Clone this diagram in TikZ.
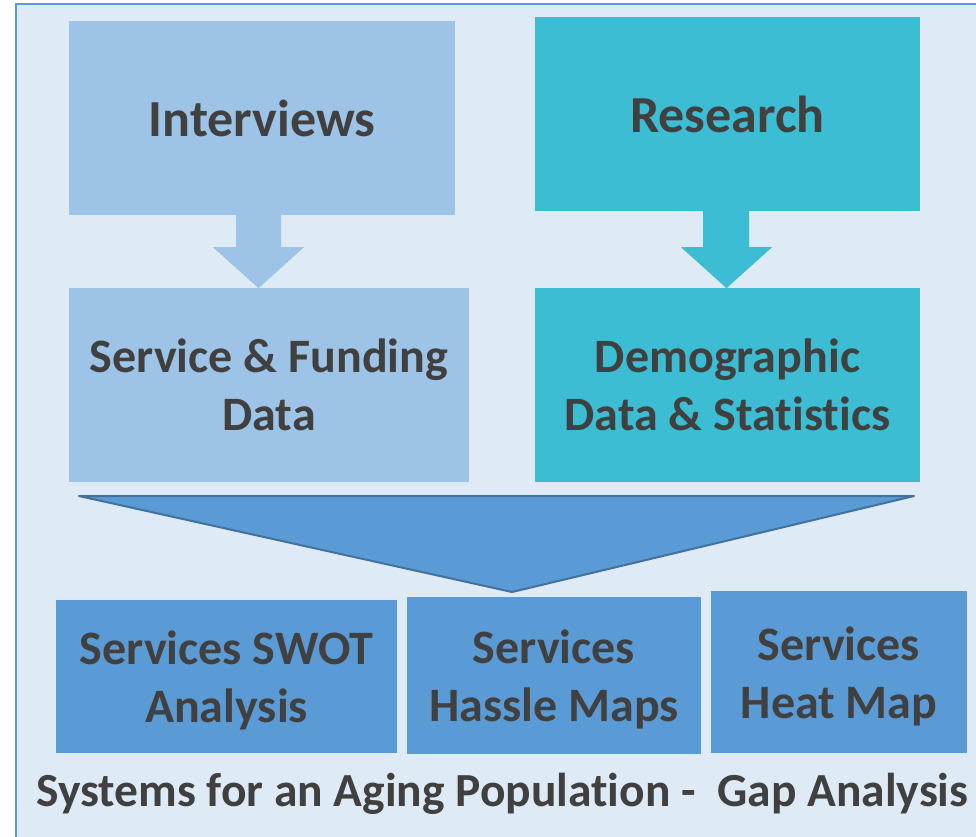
\documentclass[tikz,border=0pt]{standalone}
\usepackage{fontspec}
\setmainfont{Carlito}[Ligatures=NoCommon]
\definecolor{bgblue}{HTML}{DEEBF7}
\definecolor{frameblue}{HTML}{5B9BD5}
\definecolor{lblue}{HTML}{9DC3E6}
\definecolor{teal}{HTML}{3DBDD3}
\definecolor{midblue}{HTML}{5B9BD5}
\definecolor{edgeblue}{HTML}{41719C}
\definecolor{txtgray}{HTML}{404040}
\begin{document}
\begin{tikzpicture}[x=1pt,y=-1pt,
    box/.style={inner sep=0pt,align=center,text=txtgray,
      font=\bfseries\fontsize{48}{58}\selectfont},
    bigbox/.style={box,font=\bfseries\fontsize{52}{62}\selectfont},
    outbox/.style={fill=midblue,inner sep=0pt}]
  \useasboundingbox (0,0) rectangle (976,836);
  \clip (0,0) rectangle (976,836);
  \draw[line width=2,draw=frameblue,fill=bgblue] (16,4) rectangle (1000,860);
  % sources
  \node[bigbox,fill=lblue,minimum width=386,minimum height=194] (intv) at (262,118) {Interviews};
  \node[bigbox,fill=teal,minimum width=385,minimum height=194] (rsch) at (727.5,114) {Research};
  \node[box,fill=lblue,minimum width=400,minimum height=194] (svc) at (269,385) {Service \& Funding\\Data};
  \node[box,fill=teal,minimum width=385,minimum height=194] (demo) at (727.5,385) {Demographic\\Data \& Statistics};
  % block arrows
  \fill[lblue] (intv.south) ++(-26,0) -- ++(45,0) -- ++(0,32) -- ++(23,0)
    -- ++(-45.5,41) -- ++(-45.5,-41) -- ++(23,0) -- cycle;
  \fill[teal] (rsch.south) ++(-24.5,0) -- ++(46,0) -- ++(0,36) -- ++(23,0)
    -- ++(-45.5,41) -- ++(-45.5,-41) -- ++(22,0) -- cycle;
  % funnel
  \draw[line width=2,draw=edgeblue,fill=midblue,line join=round] (79,496) -- (914,496) -- (512,592) -- cycle;
  % results
  \node[outbox,minimum width=341,minimum height=153,
    label={[box,yshift=-4pt]center:{Services SWOT\\Analysis}}] (swot) at (226.5,676) {};
  \node[outbox,minimum width=294,minimum height=157,
    label={[box,yshift=-4pt]center:{Services\\Hassle Maps}}] (hassle) at (554,675.5) {};
  \node[outbox,minimum width=256,minimum height=162,
    label={[box,yshift=-4pt]center:{Services\\Heat Map}}] (heat) at (839,672) {};
  \node[box,anchor=base west,font=\bfseries\fontsize{47.5}{57}\selectfont] (title) at (36,806) {Systems for an Aging Population -~ Gap Analysis};
\end{tikzpicture}
\end{document}
